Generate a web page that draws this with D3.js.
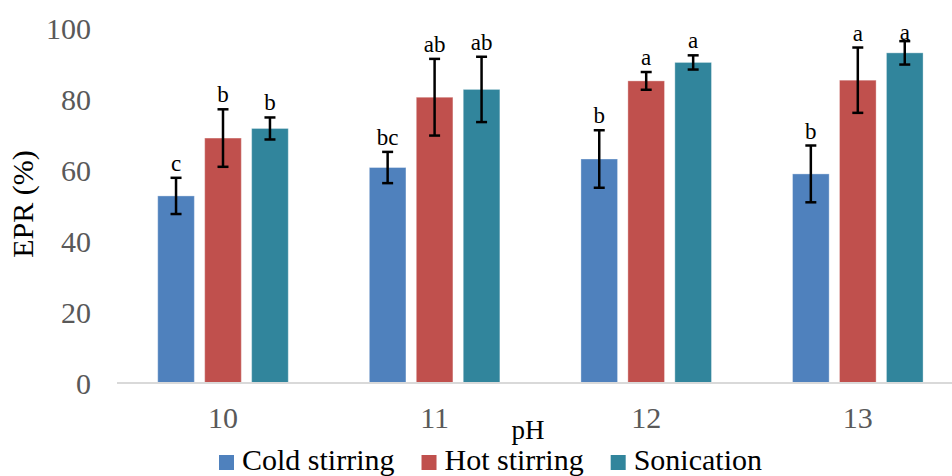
<!DOCTYPE html>
<html>
<head>
<meta charset="utf-8">
<script src="https://cdn.jsdelivr.net/npm/d3@7"></script>
<style>
  body { margin: 0; background: #fff; }
  svg { display: block; }
  svg text { font-family: "Liberation Serif", "Times New Roman", Tinos, "DejaVu Serif", serif; }
</style>
</head>
<body>
<div class="chart"></div>
<script>
// pH levels and extraction methods
const categories = ["10", "11", "12", "13"]
const series = ["Cold stirring", "Hot stirring", "Sonication"]

// EPR (%) means, error bars and significance letters
const coldValues = [52.7, 60.7, 63.1, 58.9]
const coldErrors = [5.1, 4.4, 8.1, 8.0]
const coldLetters = ["c", "bc", "b", "b"]

const hotValues = [69.0, 80.5, 85.1, 85.3]
const hotErrors = [8.1, 10.8, 2.5, 9.2]
const hotLetters = ["b", "ab", "a", "a"]

const sonValues = [71.7, 82.7, 90.3, 93.0]
const sonErrors = [3.1, 9.2, 2.0, 3.3]
const sonLetters = ["b", "ab", "a", "a"]

const yTicks = [0, 20, 40, 60, 80, 100]
const colors = ["#4F81BD", "#C0504D", "#31859C"]

const width = 952
const height = 476
const serif = "'Liberation Serif', 'Times New Roman', Tinos, 'DejaVu Serif', serif"

const rows = categories.map((c, i) => ({
  category: c,
  items: [
    { key: series[0], value: coldValues[i], err: coldErrors[i], letter: coldLetters[i] },
    { key: series[1], value: hotValues[i], err: hotErrors[i], letter: hotLetters[i] },
    { key: series[2], value: sonValues[i], err: sonErrors[i], letter: sonLetters[i] }
  ]
}))

const svg = d3.select(".chart").append("svg")
  .attr("width", width)
  .attr("height", height)
  .attr("font-family", serif)

const x0 = d3.scaleBand()
  .domain(categories)
  .range([117.2, 963.6])
  .paddingInner(0.383)
  .paddingOuter(0.1915)

const x1 = d3.scaleBand()
  .domain(series)
  .range([0, x0.bandwidth()])
  .paddingInner(0.22)

const y = d3.scaleLinear()
  .domain([0, 100])
  .range([383, 28])

const color = d3.scaleOrdinal().domain(series).range(colors)

// y tick labels
svg.append("g")
  .selectAll("text")
  .data(yTicks)
  .enter().append("text")
  .attr("x", 91)
  .attr("y", d => y(d))
  .attr("dy", "0.35em")
  .attr("text-anchor", "end")
  .attr("fill", "#595959")
  .attr("font-family", serif)
  .style("font-size", "30px")
  .text(d => d)

// bars
const groups = svg.append("g")
  .selectAll("g")
  .data(rows)
  .enter().append("g")
  .attr("transform", d => "translate(" + x0(d.category) + ",0)")

groups.selectAll("rect")
  .data(d => d.items)
  .enter().append("rect")
  .attr("x", d => x1(d.key))
  .attr("y", d => y(d.value))
  .attr("width", x1.bandwidth())
  .attr("height", d => y(0) - y(d.value))
  .attr("fill", d => color(d.key))
  .attr("stroke", "#fff")
  .attr("stroke-opacity", 0.35)
  .attr("stroke-width", 1)

// error bars
const cap = 5.5
const errs = groups.selectAll("g.err")
  .data(d => d.items)
  .enter().append("g")
  .attr("class", "err")
  .attr("stroke", "#000")
  .attr("stroke-width", 2.5)

errs.append("line")
  .attr("x1", d => x1(d.key) + x1.bandwidth() / 2)
  .attr("x2", d => x1(d.key) + x1.bandwidth() / 2)
  .attr("y1", d => y(d.value - d.err))
  .attr("y2", d => y(d.value + d.err))

errs.append("line")
  .attr("x1", d => x1(d.key) + x1.bandwidth() / 2 - cap)
  .attr("x2", d => x1(d.key) + x1.bandwidth() / 2 + cap)
  .attr("y1", d => y(d.value + d.err))
  .attr("y2", d => y(d.value + d.err))

errs.append("line")
  .attr("x1", d => x1(d.key) + x1.bandwidth() / 2 - cap)
  .attr("x2", d => x1(d.key) + x1.bandwidth() / 2 + cap)
  .attr("y1", d => y(d.value - d.err))
  .attr("y2", d => y(d.value - d.err))

// significance letters
groups.selectAll("text")
  .data(d => d.items)
  .enter().append("text")
  .attr("x", d => x1(d.key) + x1.bandwidth() / 2)
  .attr("y", d => Math.max(y(d.value + d.err) - 7, 40))
  .attr("text-anchor", "middle")
  .attr("fill", "#000")
  .attr("font-family", serif)
  .style("font-size", "23px")
  .text(d => d.letter)

// x axis line
svg.append("line")
  .attr("x1", 117)
  .attr("x2", width)
  .attr("y1", y(0))
  .attr("y2", y(0))
  .attr("stroke", "#D9D9D9")
  .attr("stroke-width", 2)

// x tick labels
svg.append("g")
  .selectAll("text")
  .data(categories)
  .enter().append("text")
  .attr("x", d => x0(d) + x0.bandwidth() / 2)
  .attr("y", 428)
  .attr("text-anchor", "middle")
  .attr("fill", "#595959")
  .attr("font-family", serif)
  .style("font-size", "30px")
  .text(d => d)

// axis titles
svg.append("text")
  .attr("x", 528)
  .attr("y", 439)
  .attr("text-anchor", "middle")
  .attr("fill", "#000")
  .attr("font-family", serif)
  .style("font-size", "27px")
  .text("pH")

svg.append("text")
  .attr("transform", "translate(33,204) rotate(-90)")
  .attr("text-anchor", "middle")
  .attr("fill", "#000")
  .attr("font-family", serif)
  .style("font-size", "30px")
  .text("EPR (%)")

// legend
const legend = svg.append("g").attr("transform", "translate(219,0)")
let lx = 0
series.forEach(s => {
  const item = legend.append("g").attr("transform", "translate(" + lx + ",0)")
  item.append("rect")
    .attr("x", 0)
    .attr("y", 455)
    .attr("width", 15)
    .attr("height", 15)
    .attr("fill", color(s))
  const t = item.append("text")
    .attr("x", 23)
    .attr("y", 470)
    .attr("fill", "#000")
    .attr("font-family", serif)
    .style("font-size", "30px")
    .text(s)
  lx += 23 + t.node().getComputedTextLength() + 27
})
</script>
</body>
</html>
